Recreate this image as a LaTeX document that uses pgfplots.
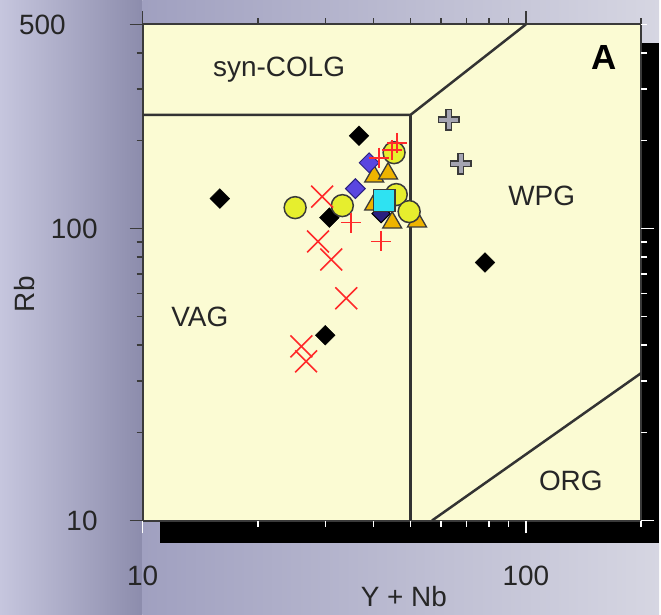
\documentclass[border=0pt]{standalone}
\usepackage{pgfplots}
\pgfplotsset{compat=1.18}
\usepackage{fontspec}
\setmainfont{Liberation Sans}
\definecolor{plotbg}{HTML}{FBFBD3}
\definecolor{axisc}{HTML}{3A3A3A}
\definecolor{textc}{HTML}{262626}
\definecolor{linec}{HTML}{333333}
\definecolor{redm}{HTML}{FF2A2A}
\definecolor{yelc}{HTML}{E6EE2E}
\definecolor{bluc}{HTML}{5A46E0}
\definecolor{navc}{HTML}{2A2080}
\definecolor{oran}{HTML}{EEB400}
\definecolor{cyanc}{HTML}{2EE2F2}
\definecolor{greyp}{HTML}{A4A4B2}
\definecolor{bgL}{HTML}{C6C6DE}
\definecolor{bgM}{HTML}{8C8CAC}
\definecolor{bgN}{HTML}{A0A0C0}
\definecolor{bgR}{HTML}{D6D6E2}
\newcommand{\lab}{\fontsize{28bp}{32bp}\selectfont}
\begin{document}
\begin{tikzpicture}[x=1bp,y=1bp]
% background
\shade[left color=bgL, right color=bgM] (0,0) rectangle (143,616);
\shade[left color=bgN, right color=bgR] (143,0) rectangle (661,616);
% shadow
\fill[black] (160,71) rectangle (661,573);
\begin{axis}[
  at={(143bp,94bp)}, anchor=south west,
  scale only axis, width=500bp, height=497.5bp,
  xmode=log, ymode=log,
  xmin=10, xmax=200, ymin=10, ymax=500,
  axis background/.style={fill=plotbg},
  axis line style={draw=axisc, line width=2bp},
  xtick={10,100,1000}, ytick={10,100,1000},
  xticklabels={10,100,1000}, yticklabels={10,100,1000},
  extra y ticks={500}, extra y tick labels={500},
  xtick pos=right, ytick pos=left,
  xticklabel pos=left, yticklabel pos=left,
  tick align=outside,
  major tick length=13bp, minor tick length=6bp,
  every major tick/.append style={draw=axisc, line width=1.6bp},
  every minor tick/.append style={draw=axisc, line width=1.6bp},
  tick label style={font=\lab, text=textc, inner sep=0pt},
  xticklabel style={anchor=center, yshift=-43bp},
  yticklabel style={anchor=east, xshift=-32bp},
  extra y tick style={tick align=outside, ytick pos=left, yticklabel pos=left,
     yticklabel style={anchor=east, xshift=-32bp}},
]
% boundaries
\addplot[draw=linec, line width=2.5bp, mark=none] coordinates {(10,245) (50,245) (100,500)};
\addplot[draw=linec, line width=2.5bp, mark=none] coordinates {(50,245) (50,10)};
\addplot[draw=linec, line width=2.5bp, mark=none] coordinates {(56.9,10) (200,32)};
% black diamonds
\addplot[only marks, mark=square*, mark size=7bp, mark options={rotate=45, fill=black, draw=black}]
  coordinates {(15.9,126.6) (36.7,207.8) (30.7,109.0) (29.96,43.1) (78.2,76.5)};
% grey plus
\addplot[only marks, mark=+, mark size=11bp, mark options={draw=axisc, line width=7bp}]
  coordinates {(63.0,235.7) (67.7,166.8)};
\addplot[only marks, mark=+, mark size=9.5bp, mark options={draw=greyp, line width=4bp}]
  coordinates {(63.0,235.7) (67.7,166.8)};
% navy diamond (hidden)
\addplot[only marks, mark=square*, mark size=6.5bp, mark options={rotate=45, fill=navc, draw=black, line width=1bp}]
  coordinates {(41.9,112.5)};
% triangles
\addplot[only marks, mark=triangle*, mark size=11bp, mark options={fill=oran, draw=axisc, line width=1.3bp}]
  coordinates {(40.2,120.8) (40.2,150.6) (43.7,154.2) (44.8,104.8) (52.0,105.7)};
% blue diamonds
\addplot[only marks, mark=square*, mark size=7bp, mark options={rotate=45, fill=bluc, draw=navc, line width=1bp}]
  coordinates {(39.0,168) (35.9,137)};
% yellow circles
\addplot[only marks, mark=*, mark size=11bp, mark options={fill=yelc, draw=axisc, line width=1.5bp}]
  coordinates {(25.0,117.9) (33.2,119.8) (45.9,130.7) (49.6,114.3) (45.3,181.9)};
% cyan square
\addplot[only marks, mark=square*, mark size=11bp, mark options={fill=cyanc, draw=axisc, line width=1.5bp}]
  coordinates {(42.7,124.6)};
% red x
\addplot[only marks, mark=x, mark size=15.5bp, mark options={draw=redm, line width=1.6bp}]
  coordinates {(29.4,128.6) (28.7,90.3) (31.06,78.4) (34.0,57.7) (25.95,39.5) (26.7,35.1)};
% red plus
\addplot[only marks, mark=+, mark size=10bp, mark options={draw=redm, line width=1.6bp}]
  coordinates {(35.0,104.8) (41.9,90.3) (46.1,196.7) (41.4,174.8) (44.8,186)};
% field labels
\node[font=\lab, text=textc] at (axis cs:22.7,349) {syn-COLG};
\node[font=\fontsize{35bp}{40bp}\selectfont\bfseries, text=black] at (axis cs:159.6,384) {A};
\node[font=\lab, text=textc] at (axis cs:110,129.7) {WPG};
\node[font=\lab, text=textc] at (axis cs:14.1,49.7) {VAG};
\node[font=\lab, text=textc] at (axis cs:131,13.7) {ORG};
\end{axis}
% white ticks on bottom and right
\begin{axis}[
  at={(143bp,94bp)}, anchor=south west,
  scale only axis, width=500bp, height=497.5bp,
  xmode=log, ymode=log,
  xmin=10, xmax=200, ymin=10, ymax=500,
  axis line style={draw=none},
  xtick={10,100,1000}, ytick={10,100,1000},
  xticklabels={}, yticklabels={},
  xtick pos=left, ytick pos=right,
  tick align=outside,
  major tick length=13bp, minor tick length=6bp,
  every major tick/.append style={draw=white, line width=1.6bp},
  every minor tick/.append style={draw=white, line width=1.6bp},
]
\addplot[draw=none, mark=none] coordinates {(10,10)};
\end{axis}
\node[font=\lab, text=textc, rotate=90] at (25,321) {Rb};
\node[font=\lab, text=textc] at (405,18) {Y + Nb};
\end{tikzpicture}
\end{document}
